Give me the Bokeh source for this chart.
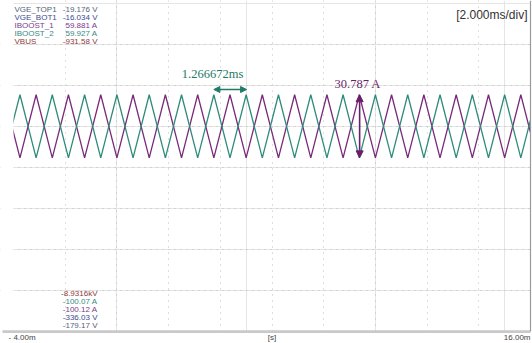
from bokeh.plotting import figure
from bokeh.models import Range1d, Grid, FixedTicker, Label, BoxAnnotation, Arrow, NormalHead
from bokeh.embed import file_html
from bokeh.resources import INLINE

# ---------------- data ----------------
time_ms = [-4.375, -3.75, -3.125, -2.5, -1.875, -1.25, -0.625, 0.0, 0.625, 1.25,
           1.875, 2.5, 3.125, 3.75, 4.375, 5.0, 5.625, 6.25, 6.875, 7.5,
           8.125, 8.75, 9.375, 10.0, 10.625, 11.25, 11.875, 12.5, 13.125, 13.75,
           14.375, 15.0, 15.625, 16.25]
iboost_2 = [-15.4, 15.4, -15.4, 15.4, -15.4, 15.4, -15.4, 15.4, -15.4, 15.4,
            -15.4, 15.4, -15.4, 15.4, -15.4, 15.4, -15.4, 15.4, -15.4, 15.4,
            -15.4, 15.4, -15.4, 15.4, -15.4, 15.4, -15.4, 15.4, -15.4, 15.4,
            -15.4, 15.4, -15.4, 15.4]
iboost_1 = [15.4, -15.4, 15.4, -15.4, 15.4, -15.4, 15.4, -15.4, 15.4, -15.4,
            15.4, -15.4, 15.4, -15.4, 15.4, -15.4, 15.4, -15.4, 15.4, -15.4,
            15.4, -15.4, 15.4, -15.4, 15.4, -15.4, 15.4, -15.4, 15.4, -15.4,
            15.4, -15.4, 15.4, -15.4]

channel_names = ["VGE_TOP1", "VGE_BOT1", "IBOOST_1", "IBOOST_2", "VBUS"]
channel_colors = ["#56607a", "#3b4a92", "#7a3a8a", "#358a7e", "#8e3a3a"]
top_values = ["-19.176 V", "-16.034 V", "59.881 A", "59.927 A", "-931.58 V"]
bottom_values = ["-179.17 V", "-336.03 V", "-100.12 A", "-100.07 A", "-8.9316kV"]

x_start_ms, x_end_ms = -4.0, 16.0
x_ticks = [-2, 0, 2, 4, 6, 8, 10, 12, 14]
y_top_a, y_bottom_a = 59.9, -100.1
y_ticks = [40, 20, 0, -20, -40, -60, -80]
x_end_labels = ["- 4.00m", "16.00m"]
x_unit = "[s]"
timebase = "[2.000ms/div]"

period_start_ms = 3.75
period_ms = 1.266672
period_text = "1.266672ms"
amp_time_ms = 9.39
amp_pp = 30.787
amp_text = "30.787 A"

# ---------------- pixel helpers (picture pixels -> data) ----------------
PX_L, PX_R = 13.0, 530.0
PY_T, PY_B = 3.0, 331.0
def xd(px):
    return x_start_ms + (px - PX_L) * (x_end_ms - x_start_ms) / (PX_R - PX_L)
def yd(py):
    return y_top_a - (py - PY_T) * (y_top_a - y_bottom_a) / (PY_B - PY_T)

W, H = 532, 343
p = figure(width=W, height=H, output_backend="svg", toolbar_location=None,
           x_axis_location=None, y_axis_location=None,
           x_range=Range1d(xd(0), xd(W)), y_range=Range1d(yd(H), yd(0)),
           min_border=0, min_border_left=0, min_border_right=0,
           min_border_top=0, min_border_bottom=0)
p.outline_line_color = None
p.background_fill_color = "white"
p.border_fill_color = "white"

grid_kw = dict(grid_line_color="#bdbdbd", grid_line_dash="1 5", grid_line_width=1)
p.add_layout(Grid(dimension=0, ticker=FixedTicker(ticks=x_ticks), **grid_kw))
p.add_layout(Grid(dimension=1, ticker=FixedTicker(ticks=y_ticks), **grid_kw))

teal = "#2f8b7b"
purple = "#7a2a7a"
p.line(time_ms, iboost_1, line_color=purple, line_width=1.3)
p.line(time_ms, iboost_2, line_color=teal, line_width=1.3)

# white covers outside the scope screen
p.add_layout(BoxAnnotation(right=x_start_ms, fill_color="white", fill_alpha=1, line_color=None))
p.add_layout(BoxAnnotation(left=x_end_ms, fill_color="white", fill_alpha=1, line_color=None))
p.add_layout(BoxAnnotation(top=y_bottom_a, fill_color="white", fill_alpha=1, line_color=None))
# bottom bar and right border
p.add_layout(BoxAnnotation(left=xd(2), right=x_end_ms, top=yd(PY_B - 1.2), bottom=yd(PY_B + 1.6),
                           fill_color="#c9c9c9", fill_alpha=1, line_color=None))
p.add_layout(BoxAnnotation(left=xd(PX_R - 0.6), right=xd(PX_R + 0.6), bottom=y_bottom_a,
                           fill_color="#9a9a9a", fill_alpha=1, line_color=None))

small = dict(text_font="Liberation Sans", text_font_size="8px", text_baseline="middle")

for i, (nm, col, tv) in enumerate(zip(channel_names, channel_colors, top_values)):
    py = 8.5 + 8.2 * i
    p.add_layout(Label(x=xd(14), y=yd(py), text=nm, text_color=col, text_align="left", **small))
    p.add_layout(Label(x=xd(97), y=yd(py), text=tv, text_color=col, text_align="right", **small))

for j, k in enumerate(range(len(channel_names) - 1, -1, -1)):
    py = 293 + 8.0 * j
    p.add_layout(Label(x=xd(97), y=yd(py), text=bottom_values[k], text_color=channel_colors[k],
                       text_align="right", **small))

p.add_layout(Label(x=xd(527), y=yd(14), text=timebase, text_color="#333333", text_align="right",
                   text_font="Liberation Sans", text_font_size="12px", text_baseline="middle"))

p.add_layout(Label(x=xd(8), y=yd(337), text=x_end_labels[0], text_color="#444444", text_align="left", **small))
p.add_layout(Label(x=xd(530), y=yd(337), text=x_end_labels[1], text_color="#444444", text_align="right", **small))
p.add_layout(Label(x=xd(271.5), y=yd(337), text=x_unit, text_color="#444444", text_align="center", **small))

# period cursor
arrow_teal = "#1f7a68"
p.add_layout(Arrow(start=NormalHead(size=6, fill_color=arrow_teal, line_color=arrow_teal),
                   end=NormalHead(size=6, fill_color=arrow_teal, line_color=arrow_teal),
                   x_start=period_start_ms, x_end=period_start_ms + period_ms,
                   y_start=yd(89), y_end=yd(89), line_color=arrow_teal, line_width=1.6))
p.add_layout(Label(x=period_start_ms - 0.05, y=yd(73), text=period_text, text_color=arrow_teal,
                   text_align="center", text_baseline="middle", text_font="Liberation Serif",
                   text_font_size="12.5px"))

# amplitude cursor
arrow_purple = "#6a1f6a"
p.add_layout(Arrow(start=NormalHead(size=7, fill_color=arrow_purple, line_color=arrow_purple),
                   end=NormalHead(size=7, fill_color=arrow_purple, line_color=arrow_purple),
                   x_start=amp_time_ms, x_end=amp_time_ms,
                   y_start=amp_pp / 2, y_end=-amp_pp / 2, line_color=arrow_purple, line_width=1.6))
p.add_layout(Label(x=xd(334), y=yd(83), text=amp_text, text_color=arrow_purple,
                   text_align="left", text_baseline="middle", text_font="Liberation Serif",
                   text_font_size="12.5px"))

open("out.html", "w").write(file_html(p, INLINE))
